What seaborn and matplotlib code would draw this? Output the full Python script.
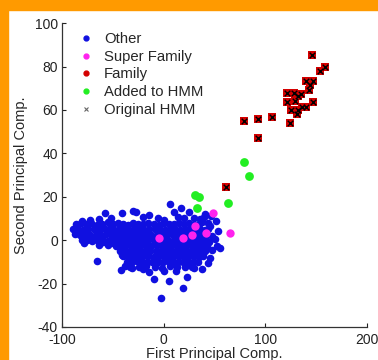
import matplotlib
matplotlib.use("Agg")
import matplotlib.pyplot as plt
import pandas as pd
import seaborn as sns
from matplotlib.lines import Line2D
from matplotlib.patches import Rectangle

sns.set_style("ticks")
plt.rcParams["font.family"] = ["Liberation Sans", "DejaVu Sans"]
plt.rcParams["axes.unicode_minus"] = False

# "Other" points
other_x = [
    # top fringe
    -80, -72, -64, -58, -52, -41, -30, -27, -20, -14, -6, 0, 6, 10, 14, 17, 20, 25, 30, 36, 40, 46, 51, 53,
    # row ~7.5
    -86, -81, -76, -71, -66, -61, -55, -50, -45, -40, -35, -30, -25, -20, -15, -10, -5, 0, 5, 10, 15, 20, 25, 30, 35,
    # row ~5
    -89, -84, -79, -74, -69, -64, -59, -54, -49, -44, -39, -34, -29, -24, -19, -14, -9, -4, 1, 6, 11, 16, 21, 26, 31, 36, 41,
    # row ~2.5
    -87, -82, -77, -72, -67, -62, -57, -52, -47, -42, -37, -32, -27, -22, -17, -12, -7, -2, 3, 8, 13, 18, 23, 28, 33, 38, 43,
    # row ~0
    -80, -75, -70, -65, -60, -55, -50, -45, -40, -35, -30, -25, -20, -15, -10, -5, 0, 5, 10, 15, 20, 25, 30, 35, 40,
    # row ~-2.5
    -47, -42, -37, -32, -27, -22, -17, -12, -7, -2, 3, 8, 13, 18, 23, 28, 33, 38, 43,
    # row ~-5
    -43, -38, -33, -28, -23, -18, -13, -8, -3, 2, 7, 12, 17, 22, 27, 32, 37, 41,
    # row ~-7.5
    -40, -35, -30, -25, -20, -15, -10, -5, 0, 5, 10, 15, 20, 25, 30, 35, 39,
    # row ~-10
    -36, -31, -26, -21, -16, -11, -6, -1, 4, 9, 14, 19, 24, 29, 34,
    # row ~-12
    -33, -24, -17, -9, -2, 6, 13, 21, 28,
    # scattered outliers
    -78.7, -65.5, -41.5, -31, -9.5, -2.8, 5.5, 19.4, 23.3, 38, 43.5, 45.4, 47.9, 52.8, 50, 55,
    -63.6, -55, -42, -40.6, -60, -70, -50, -38, 30, 12, -20, -14, 0, 44, 48, 45,
    41, 47, 38, 44,
]
other_y = [
    9, 9.5, 9.8, 12.5, 10, 12.5, 13.5, 13, 10.5, 11.8, 10, 9.5, 16.8, 13, 10.5, 14.8, 10, 13, 10.2, 9.8, 10.5, 6.5, 8.8, 4.3,
    7.3, 7.8, 7.5, 8, 7.2, 7.6, 8.2, 7.4, 7.8, 7.5, 7.2, 7.9, 7.5, 7.3, 8, 7.6, 7.2, 7.8, 7.5, 7.3, 8, 7.5, 7.7, 7.2, 7.5,
    5, 5.3, 4.8, 5.2, 5, 4.7, 5.4, 5, 4.8, 5.2, 5, 4.9, 5.3, 5, 4.8, 5.1, 5, 5.3, 4.9, 5, 5.2, 4.8, 5, 5.3, 4.9, 5.1, 4.8,
    3, 2.5, 2.8, 2.3, 2.6, 2.2, 2.7, 2.4, 2.5, 2.8, 2.4, 2.6, 2.5, 2.3, 2.7, 2.5, 2.4, 2.6, 2.5, 2.8, 2.4, 2.5, 2.7, 2.3, 2.5, 2.6, 2.4,
    0.3, 0, 0.2, -0.2, 0.1, -0.3, 0, -0.1, 0.2, 0, -0.2, 0.1, 0, 0.2, -0.1, 0, 0.2, -0.2, 0, 0.1, -0.1, 0, 0.2, -0.2, 0,
    -2.5, -2.8, -2.4, -2.6, -2.5, -2.3, -2.7, -2.5, -2.4, -2.6, -2.5, -2.3, -2.7, -2.5, -2.4, -2.6, -2.5, -2.3, -2.6,
    -5, -5.2, -4.8, -5.1, -5, -4.9, -5.2, -5, -4.8, -5.1, -5, -5.2, -4.9, -5, -5.1, -4.8, -5, -5.2,
    -7.5, -7.7, -7.4, -7.6, -7.5, -7.3, -7.6, -7.5, -7.4, -7.7, -7.5, -7.3, -7.6, -7.5, -7.4, -7.6, -7.5,
    -10, -10.2, -9.8, -10.1, -10, -9.9, -10.2, -10, -9.8, -10.1, -10, -10.2, -9.9, -10, -10.1,
    -12.2, -12.5, -12, -12.3, -12.6, -12.1, -12.4, -12.2, -12.5,
    -1.2, -9.5, -13.6, -12.6, -17.8, -26.5, -18.7, -22, -17, -13.4, -10.5, -8, -4.3, -2.5, 0.5, -3.7,
    -2, -2, -4, -6.6, -1, -0.5, -1.5, -12, -13, -14, -13.5, -14.5, -14, 5, 2, -1,
    12, 11, 8.5, 8,
]

super_x = [-4.6, 19.4, 28.3, 30.6, 41.4, 48.7, 65.5]
super_y = [1.2, 0.8, 2.3, 6.5, 3.1, 12.5, 3.2]

family_x = [146, 159, 153.4, 140, 147, 143.6, 143, 121, 128, 135.4, 132, 121, 129,
            146.5, 124.9, 132.4, 136.4, 139.6, 131.5, 124, 78.7, 93, 106.9, 93, 61]
family_y = [85.3, 79.7, 77.9, 73.3, 73.3, 71.7, 69.4, 67.9, 67.9, 67.4, 66.4, 63.7, 64,
            63.6, 60.2, 60.2, 61.4, 61.4, 58.2, 54, 54.8, 56, 56.8, 46.9, 24.6]

added_x = [30.6, 35, 33, 62.8, 79, 84]
added_y = [20.9, 20, 14.8, 16.9, 36, 29.7]

labels = ["Other", "Super Family", "Family", "Added to HMM", "Original HMM"]
colors = {"Other": "#1010E0", "Super Family": "#FF22EE", "Family": "#D40000",
          "Added to HMM": "#22EE22", "Original HMM": "black"}

df = pd.concat([
    pd.DataFrame({"x": other_x, "y": other_y, "group": "Other"}),
    pd.DataFrame({"x": super_x, "y": super_y, "group": "Super Family"}),
    pd.DataFrame({"x": family_x, "y": family_y, "group": "Family"}),
    pd.DataFrame({"x": added_x, "y": added_y, "group": "Added to HMM"}),
], ignore_index=True)

fig = plt.figure(figsize=(3.78, 3.6), dpi=100)
ax = fig.add_axes([0.164, 0.0917, 0.807, 0.844])

sns.scatterplot(data=df[df.group == "Other"], x="x", y="y", color=colors["Other"],
                s=30, linewidth=0, ax=ax, legend=False)
sns.scatterplot(data=df[df.group == "Super Family"], x="x", y="y", color=colors["Super Family"],
                s=36, linewidth=0, ax=ax, legend=False)
sns.scatterplot(data=df[df.group == "Family"], x="x", y="y", color=colors["Family"],
                marker="s", s=34, linewidth=0, ax=ax, legend=False)
sns.scatterplot(data=df[df.group == "Added to HMM"], x="x", y="y", color=colors["Added to HMM"],
                s=40, linewidth=0, ax=ax, legend=False)
# original HMM members sit on top of the family squares
sns.scatterplot(data=df[df.group == "Family"], x="x", y="y", color="black",
                marker="x", s=16, linewidth=1.0, ax=ax, legend=False)

ax.set_xlim(-100, 200)
ax.set_ylim(-40, 100)
ax.set_xticks([-100, 0, 100, 200])
ax.set_yticks([-40, -20, 0, 20, 40, 60, 80, 100])
ax.tick_params(direction="in", length=3, width=0.8, labelsize=10, pad=3, colors="#222222")
ax.tick_params(axis="x", pad=4)
sns.despine(ax=ax)
for s in ("left", "bottom"):
    ax.spines[s].set_linewidth(0.9)
    ax.spines[s].set_color("#333333")
ax.set_xlabel("First Principal Comp.", fontsize=10.5, labelpad=0.5)
ax.set_ylabel("Second Principal Comp.", fontsize=10.5, labelpad=5)

handles = [Line2D([], [], linestyle="none", marker="o", markersize=3.5, color=colors[l])
           for l in labels[:4]]
handles.append(Line2D([], [], linestyle="none", marker="x", markersize=3, color="#666666",
                      markeredgewidth=0.8))
ax.legend(handles, labels, loc="upper left", bbox_to_anchor=(0.02, 1.005), frameon=False,
          fontsize=10.7, handlelength=1.0, handletextpad=0.7, labelspacing=0.25,
          borderaxespad=0.3)

# orange frame at top and left edges
fig.patches.append(Rectangle((0, 1 - 9.5 / 360), 1, 9.5 / 360, transform=fig.transFigure,
                             color="#FF9A00", zorder=10))
fig.patches.append(Rectangle((0, 0), 8 / 378, 1, transform=fig.transFigure,
                             color="#FF9A00", zorder=10))

fig.savefig("out.png", dpi=100)
